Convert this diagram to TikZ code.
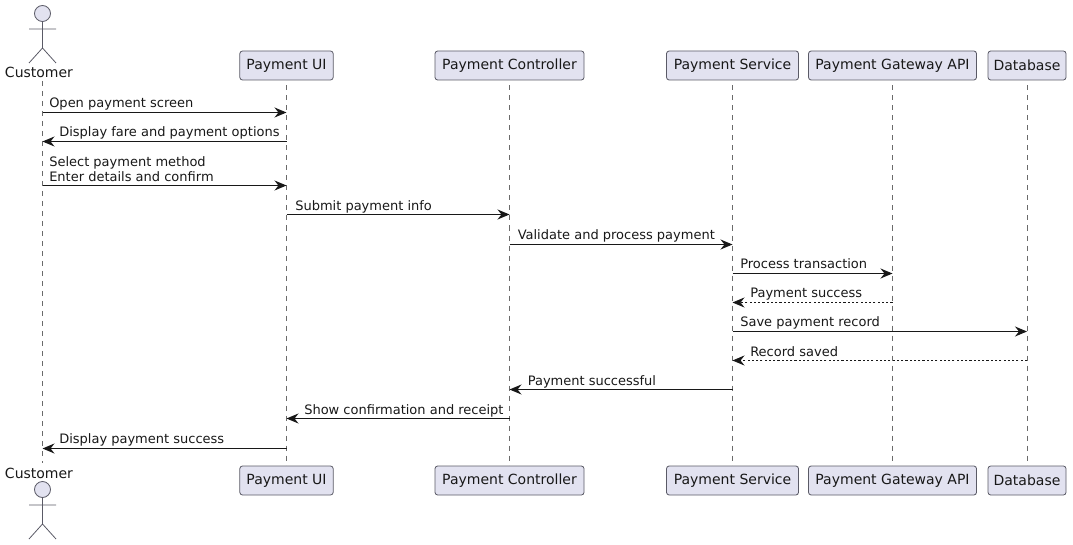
\documentclass[tikz,border=0pt]{standalone}
\usepackage{fontspec}
\setmainfont{DejaVu Sans}
\usetikzlibrary{arrows.meta,calc}
\definecolor{pfill}{HTML}{E2E2F0}
\definecolor{pline}{HTML}{5A5A66}
\definecolor{lifeline}{HTML}{6A6A6A}
\definecolor{ink}{HTML}{181818}
\tikzset{
  part/.style={draw=pline,fill=pfill,line width=0.6pt,rounded corners=2pt,minimum height=21.75pt,inner sep=0pt,text=ink,font=\fontsize{10.5}{12}\selectfont},
  actorshape/.style={draw=pline,line width=0.6pt},
  actorhead/.style={draw=pline,fill=pfill,line width=0.6pt},
  actorlabel/.style={inner sep=0pt,text=ink,font=\fontsize{10.5}{12}\selectfont,anchor=base},
  life/.style={draw=lifeline,line width=0.5pt,dash pattern=on 3.75pt off 3.75pt},
  tip/.style={-{Stealth[length=9pt,width=7.5pt,inset=3pt]}},
  msg/.style={draw=ink,line width=0.75pt,tip},
  reply/.style={draw=ink,line width=0.6pt,dash pattern=on 1.6pt off 1.6pt,tip},
  lab/.style={inner sep=0pt,anchor=base west,text=ink,font=\fontsize{9.75}{12.4}\selectfont},
}
\begin{document}
\begin{tikzpicture}[x=0.75pt,y=-0.75pt]
\useasboundingbox (0,0) rectangle (1073,545);
\coordinate (custT) at (42.5,81);
\coordinate (custB) at (42.5,463);
\coordinate (uiT) at (286.5,65.5);
\coordinate (uiB) at (286.5,480.5);
\coordinate (ctT) at (509.5,65.5);
\coordinate (ctB) at (509.5,480.5);
\coordinate (svT) at (732.5,65.5);
\coordinate (svB) at (732.5,480.5);
\coordinate (gwT) at (892.5,65.5);
\coordinate (gwB) at (892.5,480.5);
\coordinate (dbT) at (1027,65.5);
\coordinate (dbB) at (1027,480.5);
\draw[life] (custT) -- (custB);
\draw[life] (uiT) -- (uiB);
\draw[life] (ctT) -- (ctB);
\draw[life] (svT) -- (svB);
\draw[life] (gwT) -- (gwB);
\draw[life] (dbT) -- (dbB);
% participants top
\node[part,minimum width=70pt] (ui1) at (uiT) {Payment UI};
\node[part,minimum width=111.75pt] (ct1) at (ctT) {Payment Controller};
\node[part,minimum width=99pt] (sv1) at (svT) {Payment Service};
\node[part,minimum width=126pt] (gw1) at (gwT) {Payment Gateway API};
\node[part,minimum width=58.5pt] (db1) at (dbT) {Database};
% participants bottom
\node[part,minimum width=70pt] (ui2) at (uiB) {Payment UI};
\node[part,minimum width=111.75pt] (ct2) at (ctB) {Payment Controller};
\node[part,minimum width=99pt] (sv2) at (svB) {Payment Service};
\node[part,minimum width=126pt] (gw2) at (gwB) {Payment Gateway API};
\node[part,minimum width=58.5pt] (db2) at (dbB) {Database};
% actor top
\node[actorlabel] (cu1) at (39,78) {Customer};
\draw[actorhead] (42.5,13.5) circle (6pt);
\draw[actorshape] (42.5,21.5) -- (42.5,48) (29,29) -- (56,29) (29,63) -- (42.5,48) -- (56,63);
% actor bottom
\node[actorlabel] (cu2) at (39,478) {Customer};
\draw[actorhead] (42.5,489.5) circle (6pt);
\draw[actorshape] (42.5,497.5) -- (42.5,524) (29,505) -- (56,505) (29,539) -- (42.5,524) -- (56,539);
% messages
\draw[msg] (custT |- 0,112.5) -- (uiT |- 0,112.5);
\node[lab] (m1) at (49,108) {Open payment screen};
\draw[msg] (uiT |- 0,141.5) -- (custT |- 0,141.5);
\node[lab] (m2) at (59,137) {Display fare and payment options};
\draw[msg] (custT |- 0,185.5) -- (uiT |- 0,185.5);
\node[lab] (m3a) at (49,166.5) {Select payment method};
\node[lab] (m3b) at (49,182) {Enter details and confirm};
\draw[msg] (uiT |- 0,214.5) -- (ctT |- 0,214.5);
\node[lab] (m4) at (295,210) {Submit payment info};
\draw[msg] (ctT |- 0,244.5) -- (svT |- 0,244.5);
\node[lab] (m5) at (517.5,239) {Validate and process payment};
\draw[msg] (svT |- 0,273.5) -- (gwT |- 0,273.5);
\node[lab] (m6) at (740,268) {Process transaction};
\draw[reply] (gwT |- 0,302.5) -- (svT |- 0,302.5);
\node[lab] (m7) at (750,297) {Payment success};
\draw[msg] (svT |- 0,331.5) -- (dbT |- 0,331.5);
\node[lab] (m8) at (740,326) {Save payment record};
\draw[reply] (dbT |- 0,360.5) -- (svT |- 0,360.5);
\node[lab] (m9) at (750,356.5) {Record saved};
\draw[msg] (svT |- 0,389.5) -- (ctT |- 0,389.5);
\node[lab] (m10) at (527.5,385) {Payment successful};
\draw[msg] (ctT |- 0,418.5) -- (uiT |- 0,418.5);
\node[lab] (m11) at (304,414) {Show confirmation and receipt};
\draw[msg] (uiT |- 0,448.5) -- (custT |- 0,448.5);
\node[lab] (m12) at (59,443) {Display payment success};
\end{tikzpicture}
\end{document}
